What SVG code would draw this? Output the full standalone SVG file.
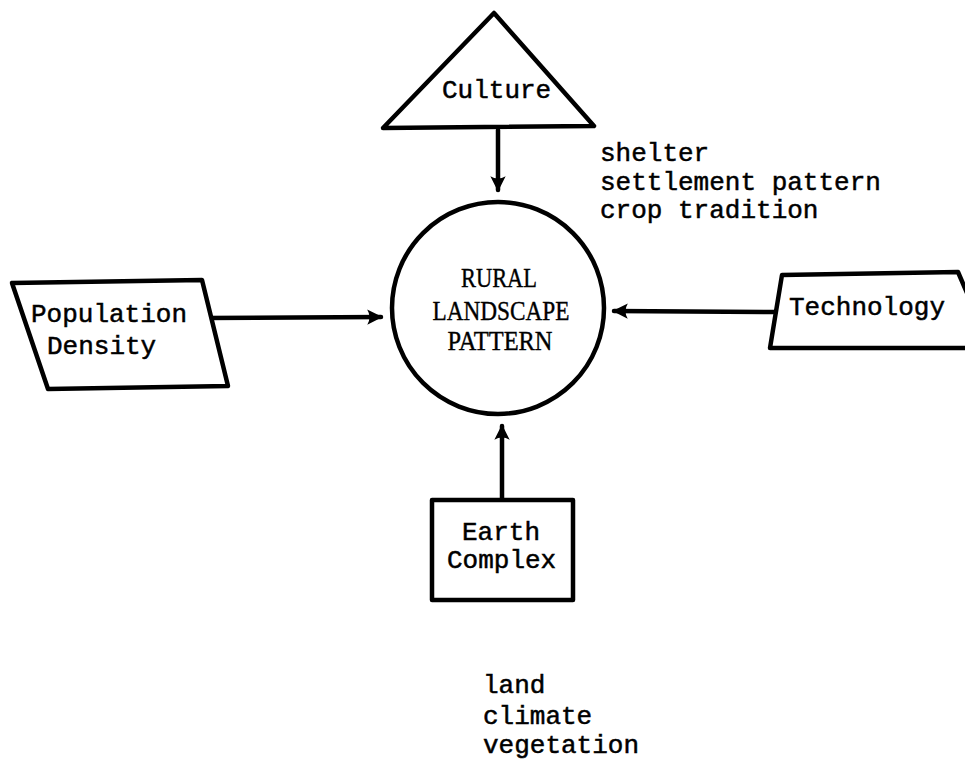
<svg xmlns="http://www.w3.org/2000/svg" width="965" height="764" viewBox="0 0 965 764">
  <style>
    .shape { fill: #fff; stroke: #000; stroke-width: 4.5; stroke-linejoin: round; }
    .edge { fill: none; stroke: #000; stroke-width: 4.5; stroke-linecap: round; }
    .mono { font-family: "Liberation Mono", "DejaVu Sans Mono", monospace; font-size: 26px; fill: #000; stroke: #000; stroke-width: 0.5; }
    .serif { font-family: "Liberation Serif", "DejaVu Serif", serif; font-size: 28px; fill: #000; stroke: #000; stroke-width: 0.4; }
  </style>
  <defs>
    <marker id="head" viewBox="0 0 10 10" refX="9" refY="5" markerWidth="3.4" markerHeight="3.4" orient="auto" markerUnits="strokeWidth">
      <path d="M0,0 L10,5 L0,10 Q3,5 0,0 Z" fill="#000"/>
    </marker>
  </defs>

  <rect width="965" height="764" fill="#fff"/>

  <!-- connectors -->
  <g id="connectors">
    <line class="edge" x1="498" y1="130" x2="498" y2="190" marker-end="url(#head)"/>
    <line class="edge" x1="206" y1="318" x2="381" y2="317" marker-end="url(#head)"/>
    <line class="edge" x1="780" y1="312" x2="614" y2="311" marker-end="url(#head)"/>
    <line class="edge" x1="502" y1="500" x2="502" y2="426" marker-end="url(#head)"/>
  </g>

  <!-- central node -->
  <g id="rural-landscape-pattern">
    <circle class="shape" cx="498" cy="308" r="106"/>
    <text class="serif" x="499" y="287" text-anchor="middle" textLength="76" lengthAdjust="spacingAndGlyphs">RURAL</text>
    <text class="serif" x="501" y="320" text-anchor="middle" textLength="137" lengthAdjust="spacingAndGlyphs">LANDSCAPE</text>
    <text class="serif" x="500" y="350" text-anchor="middle" textLength="105" lengthAdjust="spacingAndGlyphs">PATTERN</text>
  </g>

  <g id="culture">
    <polygon class="shape" points="494,13 594,126 383,128"/>
    <text class="mono" x="442" y="98">Culture</text>
  </g>

  <g id="culture-notes">
    <text class="mono" x="600" y="161">shelter</text>
    <text class="mono" x="600" y="190">settlement pattern</text>
    <text class="mono" x="600" y="218">crop tradition</text>
  </g>

  <g id="population-density">
    <polygon class="shape" points="12,283 202,280 228,386 48,389"/>
    <text class="mono" x="31" y="322">Population</text>
    <text class="mono" x="47" y="354">Density</text>
  </g>

  <g id="technology">
    <path class="shape" d="M972,348 L770,348 L782,275 L958,272 L970,300"/>
    <text class="mono" x="789" y="315">Technology</text>
  </g>

  <g id="earth-complex">
    <rect class="shape" x="432" y="500" width="141" height="100"/>
    <text class="mono" x="462" y="540">Earth</text>
    <text class="mono" x="447" y="568">Complex</text>
  </g>

  <g id="earth-notes">
    <text class="mono" x="483" y="693">land</text>
    <text class="mono" x="483" y="724">climate</text>
    <text class="mono" x="483" y="753">vegetation</text>
  </g>
</svg>
